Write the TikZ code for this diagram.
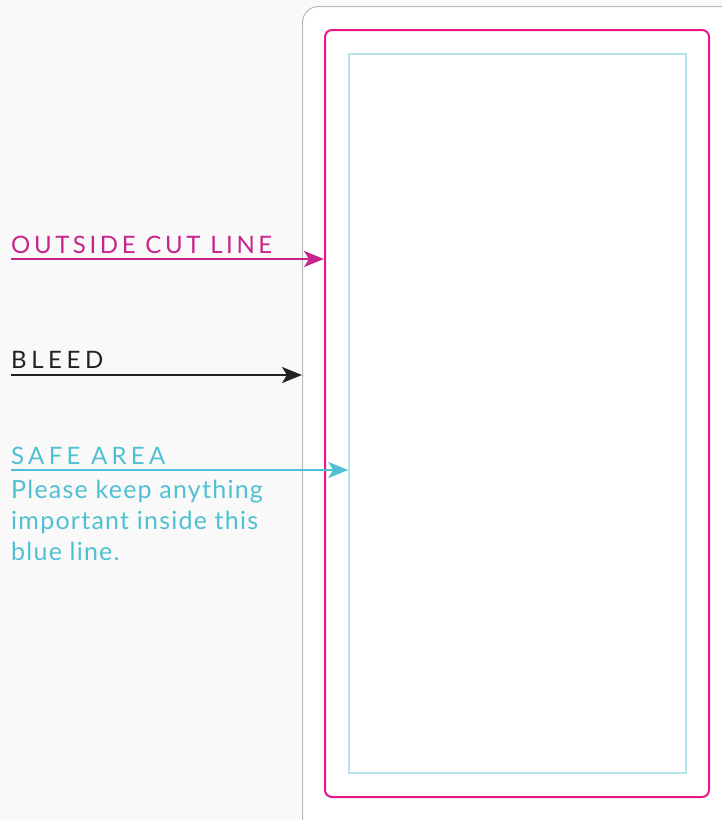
\documentclass[tikz,border=0pt]{standalone}
\usepackage{fontspec}
\setmainfont{Lato}
\usepackage{xcolor}
\usetikzlibrary{positioning,arrows.meta}
\definecolor{paper}{RGB}{249,249,249}
\definecolor{cutpink}{RGB}{232,23,138}
\definecolor{cuttext}{RGB}{200,36,138}
\definecolor{safeline}{RGB}{181,228,234}
\definecolor{safetext}{RGB}{79,192,211}
\definecolor{bleedgray}{RGB}{185,185,185}
\definecolor{bleedtext}{RGB}{34,34,34}

\begin{document}
\begin{tikzpicture}[x=1pt, y=-1pt,
  caption/.style={anchor=base west, inner sep=0pt, font=\fontsize{24}{24}\selectfont\addfontfeatures{LetterSpace=15}},
  note/.style={anchor=base west, inner sep=0pt, align=left, font=\fontsize{25}{31}\selectfont\addfontfeatures{LetterSpace=5}},
  pointer/.style={line width=2.2pt, -{Stealth[length=20pt, width=16pt, inset=5pt]}},
  bleedbox/.style={draw=bleedgray, fill=white, line width=1pt, rounded corners=16pt, inner sep=0pt, anchor=north west},
  cutbox/.style={draw=cutpink, line width=2pt, rounded corners=7pt, inner sep=0pt},
  safebox/.style={draw=safeline, line width=1.5pt, inner sep=0pt}
]

\useasboundingbox (0,0) rectangle (722,820);
\fill[paper] (0,0) rectangle (722,820);
\clip (0,0) rectangle (722,820);

% card outlines
\node[bleedbox, minimum width=470pt, minimum height=870pt] (bleed) at (302,6) {};
\node[cutbox, minimum width=384pt, minimum height=767pt] (cut) at (517,413.5) {};
\node[safebox, minimum width=337pt, minimum height=719pt] (safe) at (517.5,413.5) {};

% labels
\node[caption, text=cuttext] (cutlbl) at (11,253) {OUTSIDE CUT LINE};
\node[caption, text=bleedtext, font=\fontsize{24}{24}\selectfont\addfontfeatures{LetterSpace=19}] (bleedlbl) at (11,368) {BLEED};
\node[caption, text=safetext, font=\fontsize{24}{24}\selectfont\addfontfeatures{LetterSpace=18}] (safelbl) at (11,464) {SAFE AREA};
\node[note, text=safetext] (safenote) at (11,560) {Please keep anything\\important inside this\\blue line.};

\coordinate (cutfrom) at (11,259);
\coordinate (bleedfrom) at (11,375);
\coordinate (safefrom) at (11,470);

\draw[pointer, cuttext] (cutfrom) -- (cutfrom -| cut.west);
\draw[pointer, bleedtext] (bleedfrom) -- (bleedfrom -| bleed.west);
\draw[pointer, safetext] (safefrom) -- (safefrom -| safe.west);

\end{tikzpicture}
\end{document}
